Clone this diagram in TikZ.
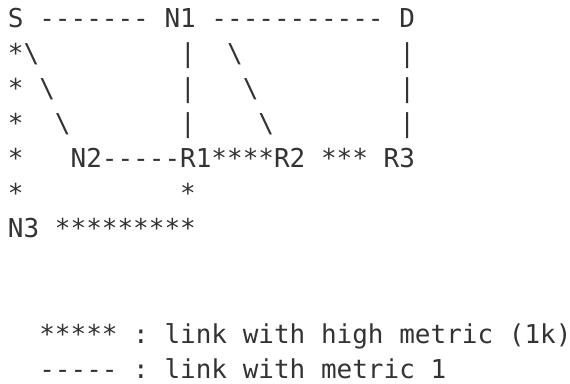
\documentclass[tikz,border=0pt]{standalone}
\usepackage{fontspec}
\setmonofont{DejaVu Sans Mono}
\definecolor{ink}{HTML}{333333}
\newcommand{\bs}{\textbackslash}
\begin{document}
\begin{tikzpicture}[x=1pt,y=1pt,
  asciiline/.style={anchor=base west, inner sep=0pt, outer sep=0pt,
    font=\ttfamily\fontsize{26}{26}\selectfont, text=ink}]
\useasboundingbox (0,0) rectangle (570,383);
\node[asciiline] (r0) at (8,355) {S~-------~N1~-----------~D};
\node[asciiline] (r1) at (8,320) {*\bs~~~~~~~~~|~~\bs~~~~~~~~~~|};
\node[asciiline] (r2) at (8,285) {*~\bs~~~~~~~~|~~~\bs~~~~~~~~~|};
\node[asciiline] (r3) at (8,250) {*~~\bs~~~~~~~|~~~~\bs~~~~~~~~|};
\node[asciiline] (r4) at (8,215) {*~~~N2-----R1****R2~***~R3};
\node[asciiline] (r5) at (8,180) {*~~~~~~~~~~*};
\node[asciiline] (r6) at (8,145) {N3~*********};
\node[asciiline] (r9) at (8,40) {~~*****~:~link~with~high~metric~(1k)};
\node[asciiline] (r10) at (8,5) {~~-----~:~link~with~metric~1};
\end{tikzpicture}
\end{document}
